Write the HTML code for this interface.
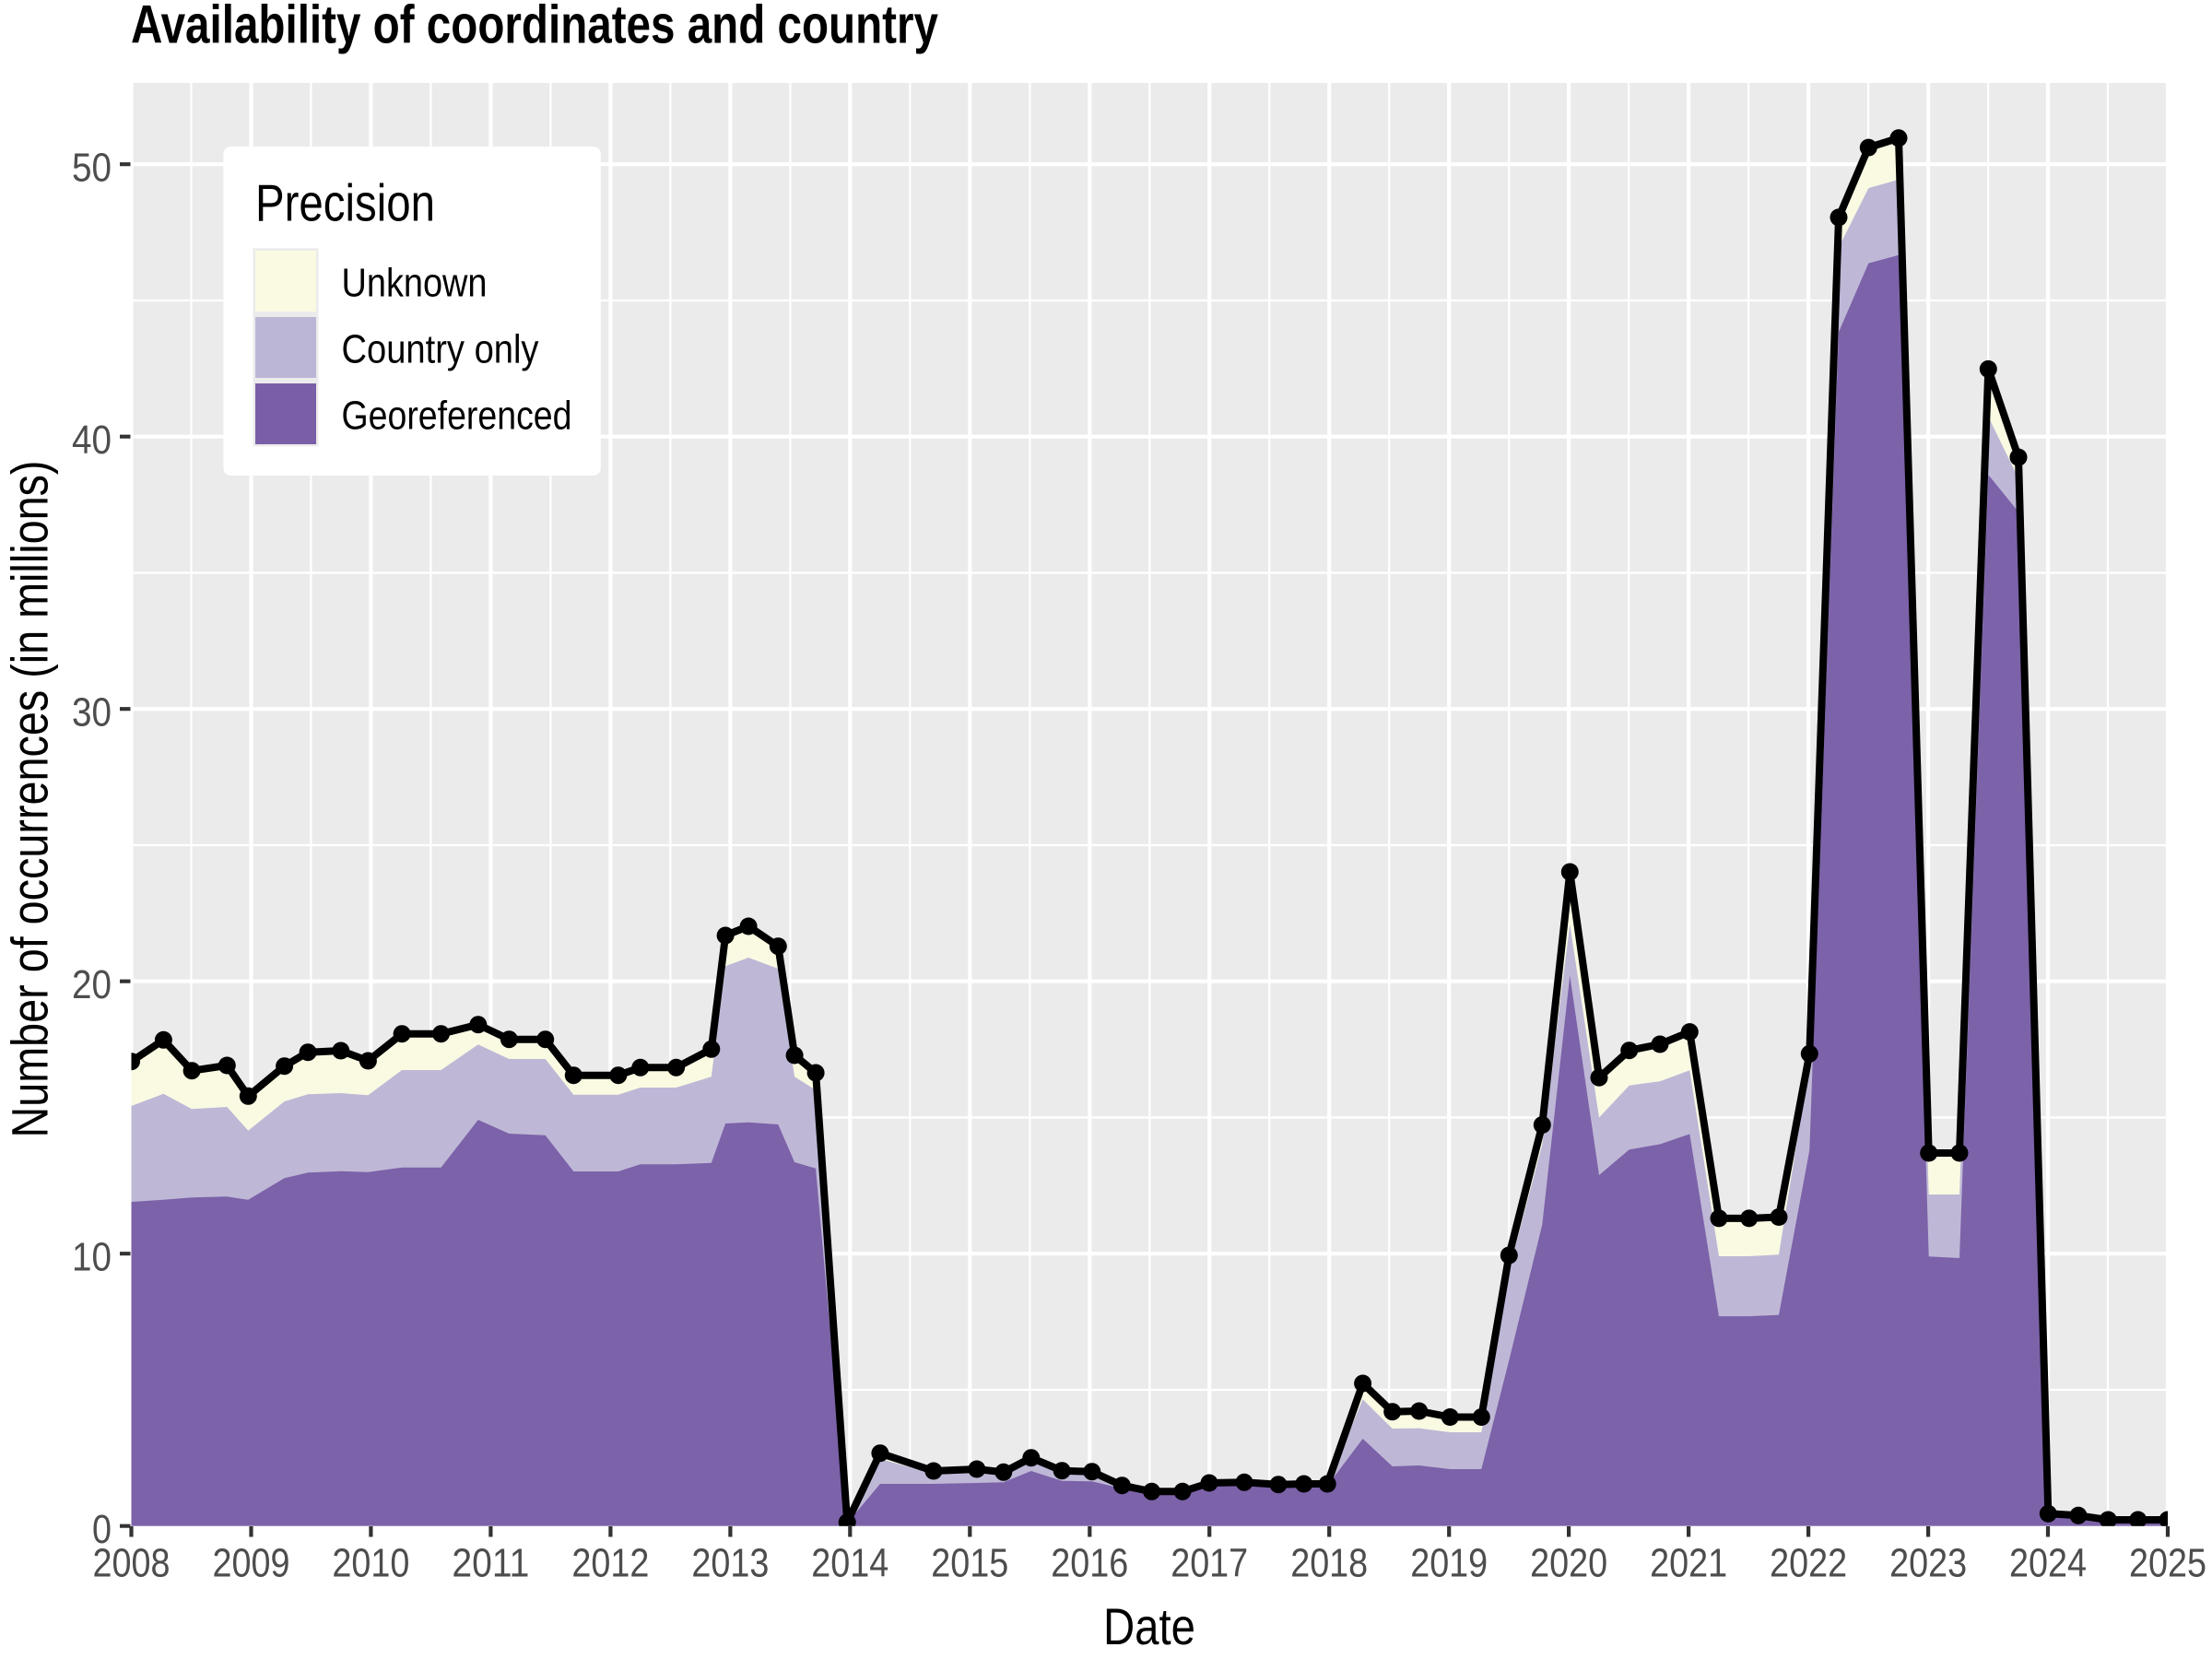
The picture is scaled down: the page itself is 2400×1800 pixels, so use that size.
<!DOCTYPE html>
<html>
<head>
<meta charset="utf-8">
<style>
html,body{margin:0;padding:0;background:#fff;}
svg{display:block;}
text{font-family:"Liberation Sans Narrow","Liberation Sans",sans-serif;}
</style>
</head>
<body>
<svg width="2400" height="1800" viewBox="0 0 2400 1800" xmlns="http://www.w3.org/2000/svg">
<defs>
<clipPath id="pc"><rect x="142.5" y="90" width="2209.5" height="1565.7"/></clipPath>
</defs>
<rect x="0" y="0" width="2400" height="1800" fill="#ffffff"/>
<!-- panel -->
<rect x="142.5" y="90" width="2209.5" height="1565.7" fill="#EBEBEB"/>
<!-- minor grid -->
<g stroke="#ffffff" stroke-width="2.2" fill="none">
<path d="M142.5 1508H2352M142.5 1212.5H2352M142.5 917H2352M142.5 621.5H2352M142.5 326H2352"/>
<path d="M207.5 90V1655.7M337.4 90V1655.7M467.4 90V1655.7M597.4 90V1655.7M727.4 90V1655.7M857.4 90V1655.7M987.3 90V1655.7M1117.3 90V1655.7M1247.3 90V1655.7M1377.2 90V1655.7M1507.2 90V1655.7M1637.2 90V1655.7M1767.1 90V1655.7M1897.1 90V1655.7M2027.1 90V1655.7M2157.1 90V1655.7M2287 90V1655.7"/>
</g>
<!-- major grid -->
<g stroke="#ffffff" stroke-width="4.2" fill="none">
<path d="M142.5 1360.2H2352M142.5 1064.7H2352M142.5 769.2H2352M142.5 473.7H2352M142.5 178.2H2352"/>
<path d="M142.5 90V1655.7M272.5 90V1655.7M402.4 90V1655.7M532.4 90V1655.7M662.4 90V1655.7M792.4 90V1655.7M922.3 90V1655.7M1052.3 90V1655.7M1182.3 90V1655.7M1312.2 90V1655.7M1442.2 90V1655.7M1572.2 90V1655.7M1702.1 90V1655.7M1832.1 90V1655.7M1962.1 90V1655.7M2092.1 90V1655.7M2222 90V1655.7M2352 90V1655.7"/>
</g>

<g clip-path="url(#pc)">
<!-- Unknown (total) area -->
<polygon fill="#FAFAE2" fill-opacity="0.97" points="142.5,1655.7 142.5,1151.7 177.4,1128.3 208.1,1161.7 246.3,1156.0 269.3,1189.3 308.6,1156.7 334.1,1141.7 369.8,1140.0 399.4,1151.0 436.1,1121.7 478.5,1121.7 518.8,1111.7 552.4,1127.7 591.7,1127.7 622.3,1166.7 670.8,1166.7 694.8,1158.3 733.6,1158.3 771.8,1138.3 787.1,1015.0 812.1,1005.0 844.3,1026.7 862.1,1145.0 885.1,1164.0 919.2,1651.7 954.9,1576.7 1012.9,1596.0 1059.8,1594.0 1088.8,1597.3 1118.8,1581.7 1152.2,1595.7 1184.8,1596.7 1217.4,1611.7 1249.6,1618.3 1283.0,1618.3 1312.0,1609.0 1350.0,1608.3 1387.0,1610.7 1414.7,1610.0 1440.2,1610.0 1478.6,1501.0 1510.7,1531.7 1539.7,1531.0 1573.3,1537.5 1607.3,1537.5 1637.3,1362.0 1673.3,1220.5 1703.3,946.0 1735.0,1169.2 1767.7,1139.7 1801.0,1133.0 1833.3,1119.6 1865.0,1321.9 1897.7,1321.9 1930.0,1320.5 1963.3,1143.3 1995.0,235.9 2027.3,160.1 2060.0,149.8 2092.7,1251.0 2126.0,1251.0 2157.3,400.4 2190.0,496.1 2222.3,1642.3 2255.0,1644.3 2287.3,1649.0 2319.7,1649.0 2352.0,1649.0 2352,1655.7"/>
<!-- Country only area -->
<polygon fill="#BCB6D6" fill-opacity="0.97" points="142.5,1655.7 142.5,1200.0 177.4,1186.7 208.1,1203.3 246.3,1201.0 269.3,1226.7 308.6,1195.0 334.1,1187.3 369.8,1186.0 399.4,1188.3 436.1,1161.0 478.5,1161.0 518.8,1133.3 552.4,1149.0 591.7,1149.0 622.3,1187.7 670.8,1187.7 694.8,1180.0 733.6,1180.0 771.8,1168.3 787.1,1048.3 812.1,1039.0 844.3,1051.0 862.1,1168.3 885.1,1182.7 919.2,1652.0 954.9,1582.7 1012.9,1599.3 1059.8,1598.0 1088.8,1599.5 1118.8,1586.0 1152.2,1599.5 1184.8,1599.5 1217.4,1613.0 1249.6,1619.0 1283.0,1619.0 1312.0,1610.0 1350.0,1609.5 1387.0,1611.5 1414.7,1611.0 1440.2,1611.0 1478.6,1518.3 1510.7,1550.0 1539.7,1549.6 1573.3,1554.0 1607.3,1554.0 1637.3,1377.9 1673.3,1242.0 1703.3,1002.7 1735.0,1212.5 1767.7,1177.7 1801.0,1173.2 1833.3,1161.2 1865.0,1363.0 1897.7,1363.0 1930.0,1361.2 1963.3,1153.4 1995.0,268.4 2027.3,204.1 2060.0,194.9 2092.7,1296.0 2126.0,1296.0 2157.3,452.1 2190.0,519.0 2222.3,1642.5 2255.0,1644.5 2287.3,1649.2 2319.7,1649.2 2352.0,1649.2 2352,1655.7"/>
<!-- Georeferenced area -->
<polygon fill="#7A5FA7" fill-opacity="0.97" points="142.5,1655.7 142.5,1304.0 177.4,1301.7 208.1,1299.3 246.3,1298.3 269.3,1301.7 308.6,1278.3 334.1,1272.3 369.8,1270.7 399.4,1271.7 436.1,1266.7 478.5,1266.7 518.8,1215.0 552.4,1230.0 591.7,1231.7 622.3,1271.0 670.8,1271.0 694.8,1263.3 733.6,1263.3 771.8,1261.7 787.1,1219.0 812.1,1217.7 844.3,1220.0 862.1,1261.0 885.1,1267.7 919.2,1652.7 954.9,1610.0 1012.9,1610.0 1059.8,1609.0 1088.8,1608.3 1118.8,1596.0 1152.2,1606.7 1184.8,1607.3 1217.4,1615.0 1249.6,1620.0 1283.0,1620.0 1312.0,1611.0 1350.0,1610.5 1387.0,1612.5 1414.7,1612.0 1440.2,1612.0 1478.6,1561.0 1510.7,1591.0 1539.7,1590.0 1573.3,1594.0 1607.3,1594.0 1637.3,1476.0 1673.3,1328.6 1703.3,1058.5 1735.0,1275.0 1767.7,1247.3 1801.0,1241.5 1833.3,1230.4 1865.0,1428.1 1897.7,1428.1 1930.0,1426.8 1963.3,1247.9 1995.0,360.2 2027.3,285.6 2060.0,276.8 2092.7,1363.3 2126.0,1365.0 2157.3,515.2 2190.0,555.4 2222.3,1643.0 2255.0,1645.0 2287.3,1649.5 2319.7,1649.5 2352.0,1649.5 2352,1655.7"/>
<!-- total line -->
<polyline fill="none" stroke="#000000" stroke-width="8" stroke-linejoin="round" stroke-linecap="round" points="142.5,1151.7 177.4,1128.3 208.1,1161.7 246.3,1156.0 269.3,1189.3 308.6,1156.7 334.1,1141.7 369.8,1140.0 399.4,1151.0 436.1,1121.7 478.5,1121.7 518.8,1111.7 552.4,1127.7 591.7,1127.7 622.3,1166.7 670.8,1166.7 694.8,1158.3 733.6,1158.3 771.8,1138.3 787.1,1015.0 812.1,1005.0 844.3,1026.7 862.1,1145.0 885.1,1164.0 919.2,1651.7 954.9,1576.7 1012.9,1596.0 1059.8,1594.0 1088.8,1597.3 1118.8,1581.7 1152.2,1595.7 1184.8,1596.7 1217.4,1611.7 1249.6,1618.3 1283.0,1618.3 1312.0,1609.0 1350.0,1608.3 1387.0,1610.7 1414.7,1610.0 1440.2,1610.0 1478.6,1501.0 1510.7,1531.7 1539.7,1531.0 1573.3,1537.5 1607.3,1537.5 1637.3,1362.0 1673.3,1220.5 1703.3,946.0 1735.0,1169.2 1767.7,1139.7 1801.0,1133.0 1833.3,1119.6 1865.0,1321.9 1897.7,1321.9 1930.0,1320.5 1963.3,1143.3 1995.0,235.9 2027.3,160.1 2060.0,149.8 2092.7,1251.0 2126.0,1251.0 2157.3,400.4 2190.0,496.1 2222.3,1642.3 2255.0,1644.3 2287.3,1649.0 2319.7,1649.0 2352.0,1649.0"/>
<!-- points -->
<g fill="#000000">
<circle cx="142.5" cy="1151.7" r="9.5"/><circle cx="177.4" cy="1128.3" r="9.5"/><circle cx="208.1" cy="1161.7" r="9.5"/><circle cx="246.3" cy="1156.0" r="9.5"/><circle cx="269.3" cy="1189.3" r="9.5"/><circle cx="308.6" cy="1156.7" r="9.5"/><circle cx="334.1" cy="1141.7" r="9.5"/><circle cx="369.8" cy="1140.0" r="9.5"/><circle cx="399.4" cy="1151.0" r="9.5"/><circle cx="436.1" cy="1121.7" r="9.5"/><circle cx="478.5" cy="1121.7" r="9.5"/><circle cx="518.8" cy="1111.7" r="9.5"/><circle cx="552.4" cy="1127.7" r="9.5"/><circle cx="591.7" cy="1127.7" r="9.5"/><circle cx="622.3" cy="1166.7" r="9.5"/><circle cx="670.8" cy="1166.7" r="9.5"/><circle cx="694.8" cy="1158.3" r="9.5"/><circle cx="733.6" cy="1158.3" r="9.5"/><circle cx="771.8" cy="1138.3" r="9.5"/><circle cx="787.1" cy="1015.0" r="9.5"/><circle cx="812.1" cy="1005.0" r="9.5"/><circle cx="844.3" cy="1026.7" r="9.5"/><circle cx="862.1" cy="1145.0" r="9.5"/><circle cx="885.1" cy="1164.0" r="9.5"/><circle cx="919.2" cy="1651.7" r="9.5"/><circle cx="954.9" cy="1576.7" r="9.5"/><circle cx="1012.9" cy="1596.0" r="9.5"/><circle cx="1059.8" cy="1594.0" r="9.5"/><circle cx="1088.8" cy="1597.3" r="9.5"/><circle cx="1118.8" cy="1581.7" r="9.5"/><circle cx="1152.2" cy="1595.7" r="9.5"/><circle cx="1184.8" cy="1596.7" r="9.5"/><circle cx="1217.4" cy="1611.7" r="9.5"/><circle cx="1249.6" cy="1618.3" r="9.5"/><circle cx="1283.0" cy="1618.3" r="9.5"/><circle cx="1312.0" cy="1609.0" r="9.5"/><circle cx="1350.0" cy="1608.3" r="9.5"/><circle cx="1387.0" cy="1610.7" r="9.5"/><circle cx="1414.7" cy="1610.0" r="9.5"/><circle cx="1440.2" cy="1610.0" r="9.5"/><circle cx="1478.6" cy="1501.0" r="9.5"/><circle cx="1510.7" cy="1531.7" r="9.5"/><circle cx="1539.7" cy="1531.0" r="9.5"/><circle cx="1573.3" cy="1537.5" r="9.5"/><circle cx="1607.3" cy="1537.5" r="9.5"/><circle cx="1637.3" cy="1362.0" r="9.5"/><circle cx="1673.3" cy="1220.5" r="9.5"/><circle cx="1703.3" cy="946.0" r="9.5"/><circle cx="1735.0" cy="1169.2" r="9.5"/><circle cx="1767.7" cy="1139.7" r="9.5"/><circle cx="1801.0" cy="1133.0" r="9.5"/><circle cx="1833.3" cy="1119.6" r="9.5"/><circle cx="1865.0" cy="1321.9" r="9.5"/><circle cx="1897.7" cy="1321.9" r="9.5"/><circle cx="1930.0" cy="1320.5" r="9.5"/><circle cx="1963.3" cy="1143.3" r="9.5"/><circle cx="1995.0" cy="235.9" r="9.5"/><circle cx="2027.3" cy="160.1" r="9.5"/><circle cx="2060.0" cy="149.8" r="9.5"/><circle cx="2092.7" cy="1251.0" r="9.5"/><circle cx="2126.0" cy="1251.0" r="9.5"/><circle cx="2157.3" cy="400.4" r="9.5"/><circle cx="2190.0" cy="496.1" r="9.5"/><circle cx="2222.3" cy="1642.3" r="9.5"/><circle cx="2255.0" cy="1644.3" r="9.5"/><circle cx="2287.3" cy="1649.0" r="9.5"/><circle cx="2319.7" cy="1649.0" r="9.5"/><circle cx="2352.0" cy="1649.0" r="9.5"/>
</g>
</g>

<!-- axis ticks -->
<g stroke="#333333" stroke-width="4.2" fill="none">
<path d="M130 1655.7H141.5M130 1360.2H141.5M130 1064.7H141.5M130 769.2H141.5M130 473.7H141.5M130 178.2H141.5"/>
<path d="M142.5 1656V1667.5M272.5 1656V1667.5M402.4 1656V1667.5M532.4 1656V1667.5M662.4 1656V1667.5M792.4 1656V1667.5M922.3 1656V1667.5M1052.3 1656V1667.5M1182.3 1656V1667.5M1312.2 1656V1667.5M1442.2 1656V1667.5M1572.2 1656V1667.5M1702.1 1656V1667.5M1832.1 1656V1667.5M1962.1 1656V1667.5M2092.1 1656V1667.5M2222 1656V1667.5M2352 1656V1667.5"/>
</g>

<!-- y tick labels -->
<g fill="#4D4D4D" font-size="44" text-anchor="end">
<text x="121" y="1674" textLength="21" lengthAdjust="spacingAndGlyphs">0</text>
<text x="121" y="1378.5" textLength="43" lengthAdjust="spacingAndGlyphs">10</text>
<text x="121" y="1083" textLength="43" lengthAdjust="spacingAndGlyphs">20</text>
<text x="121" y="787.5" textLength="43" lengthAdjust="spacingAndGlyphs">30</text>
<text x="121" y="492" textLength="43" lengthAdjust="spacingAndGlyphs">40</text>
<text x="121" y="196.5" textLength="43" lengthAdjust="spacingAndGlyphs">50</text>
</g>

<!-- x tick labels -->
<g fill="#4D4D4D" font-size="44" text-anchor="middle">
<text x="142.5" y="1710.7" textLength="84" lengthAdjust="spacingAndGlyphs">2008</text>
<text x="272.5" y="1710.7" textLength="84" lengthAdjust="spacingAndGlyphs">2009</text>
<text x="402.4" y="1710.7" textLength="84" lengthAdjust="spacingAndGlyphs">2010</text>
<text x="532.4" y="1710.7" textLength="84" lengthAdjust="spacingAndGlyphs">2011</text>
<text x="662.4" y="1710.7" textLength="84" lengthAdjust="spacingAndGlyphs">2012</text>
<text x="792.4" y="1710.7" textLength="84" lengthAdjust="spacingAndGlyphs">2013</text>
<text x="922.3" y="1710.7" textLength="84" lengthAdjust="spacingAndGlyphs">2014</text>
<text x="1052.3" y="1710.7" textLength="84" lengthAdjust="spacingAndGlyphs">2015</text>
<text x="1182.3" y="1710.7" textLength="84" lengthAdjust="spacingAndGlyphs">2016</text>
<text x="1312.2" y="1710.7" textLength="84" lengthAdjust="spacingAndGlyphs">2017</text>
<text x="1442.2" y="1710.7" textLength="84" lengthAdjust="spacingAndGlyphs">2018</text>
<text x="1572.2" y="1710.7" textLength="84" lengthAdjust="spacingAndGlyphs">2019</text>
<text x="1702.1" y="1710.7" textLength="84" lengthAdjust="spacingAndGlyphs">2020</text>
<text x="1832.1" y="1710.7" textLength="84" lengthAdjust="spacingAndGlyphs">2021</text>
<text x="1962.1" y="1710.7" textLength="84" lengthAdjust="spacingAndGlyphs">2022</text>
<text x="2092.1" y="1710.7" textLength="84" lengthAdjust="spacingAndGlyphs">2023</text>
<text x="2222" y="1710.7" textLength="84" lengthAdjust="spacingAndGlyphs">2024</text>
<text x="2352" y="1710.7" textLength="84" lengthAdjust="spacingAndGlyphs">2025</text>
</g>

<!-- axis titles -->
<text x="1247" y="1784" font-size="56" fill="#000000" text-anchor="middle" textLength="100" lengthAdjust="spacingAndGlyphs">Date</text>
<text transform="translate(51.5,867) rotate(-90)" font-size="56" fill="#000000" text-anchor="middle" textLength="735" lengthAdjust="spacingAndGlyphs">Number of occurrences (in millions)</text>

<!-- title -->
<text x="142" y="46.7" font-size="58" font-weight="bold" fill="#000000" textLength="876" lengthAdjust="spacingAndGlyphs">Availability of coordinates and country</text>

<!-- legend -->
<rect x="242.4" y="159" width="409.4" height="357" rx="8" ry="8" fill="#ffffff"/>
<text x="277" y="239.3" font-size="57" fill="#000000" textLength="195" lengthAdjust="spacingAndGlyphs">Precision</text>
<rect x="274.5" y="269.3" width="71" height="215" fill="#EBEBEB"/>
<rect x="277" y="272" width="66" height="66" fill="#FAFAE2"/>
<rect x="277" y="344" width="66" height="66" fill="#BCB6D6"/>
<rect x="277" y="416" width="66" height="66" fill="#7A5FA7"/>
<g font-size="44" fill="#000000">
<text x="370.5" y="321.7" textLength="158" lengthAdjust="spacingAndGlyphs">Unknown</text>
<text x="370.5" y="393.5" textLength="214" lengthAdjust="spacingAndGlyphs">Country only</text>
<text x="370.5" y="465.7" textLength="250" lengthAdjust="spacingAndGlyphs">Georeferenced</text>
</g>
</svg>
</body>
</html>
